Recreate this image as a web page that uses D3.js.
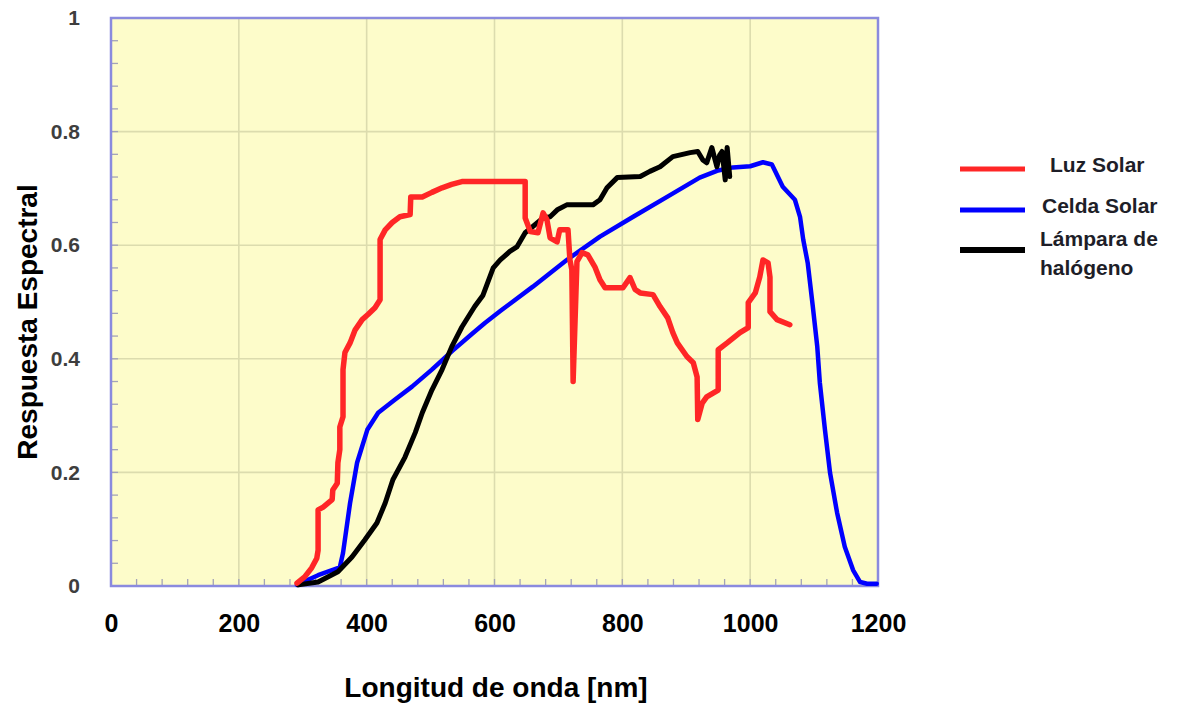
<!DOCTYPE html>
<html>
<head>
<meta charset="utf-8">
<script src="https://cdn.jsdelivr.net/npm/d3@7"></script>
<style>
  html, body { margin: 0; padding: 0; background: #ffffff; }
  svg { display: block; font-family: "Liberation Sans", Arial, Helvetica, sans-serif; }
</style>
</head>
<body>
<svg id="chart" width="1185" height="704"></svg>
<script>
// Spectral response curves: wavelength (nm) and relative response
const luzSolarNm = [291, 303, 314, 322, 324, 324, 332, 346, 347, 354, 355, 358, 358, 363, 363, 366, 374, 382, 393, 402, 413, 421, 421, 429, 440, 452, 468, 469, 487, 502, 518, 533, 549, 648, 648, 656, 668, 676, 682, 687, 698, 702, 715, 718, 721, 723, 729, 737, 746, 757, 765, 773, 801, 812, 820, 828, 848, 859, 871, 879, 886, 901, 911, 917, 918, 925, 932, 950, 950, 964, 984, 997, 997, 1008, 1015, 1020, 1028, 1031, 1031, 1042, 1062];
const luzSolarVal = [0.005, 0.016, 0.032, 0.049, 0.063, 0.134, 0.139, 0.152, 0.169, 0.181, 0.217, 0.240, 0.280, 0.298, 0.381, 0.411, 0.428, 0.451, 0.469, 0.478, 0.490, 0.504, 0.610, 0.627, 0.640, 0.650, 0.654, 0.685, 0.685, 0.693, 0.701, 0.707, 0.712, 0.712, 0.648, 0.624, 0.622, 0.657, 0.645, 0.613, 0.606, 0.627, 0.627, 0.574, 0.557, 0.360, 0.571, 0.587, 0.583, 0.562, 0.539, 0.525, 0.525, 0.543, 0.522, 0.516, 0.513, 0.492, 0.472, 0.446, 0.428, 0.404, 0.393, 0.368, 0.293, 0.322, 0.333, 0.345, 0.416, 0.428, 0.446, 0.455, 0.499, 0.516, 0.544, 0.574, 0.569, 0.544, 0.483, 0.469, 0.460];

const celdaSolarNm = [291, 324, 358, 363, 374, 385, 401, 418, 444, 471, 502, 534, 565, 585, 609, 660, 713, 765, 817, 870, 921, 948, 973, 1000, 1020, 1034, 1051, 1070, 1078, 1083, 1090, 1098, 1105, 1109, 1117, 1125, 1136, 1148, 1161, 1172, 1183, 1198];
const celdaSolarVal = [0.002, 0.019, 0.033, 0.058, 0.146, 0.217, 0.275, 0.305, 0.328, 0.351, 0.381, 0.414, 0.444, 0.463, 0.484, 0.527, 0.574, 0.615, 0.650, 0.685, 0.719, 0.731, 0.737, 0.739, 0.746, 0.742, 0.703, 0.680, 0.650, 0.610, 0.569, 0.492, 0.421, 0.358, 0.275, 0.199, 0.129, 0.069, 0.028, 0.007, 0.004, 0.004];

const halogenoNm = [293, 324, 355, 377, 397, 416, 429, 441, 460, 476, 487, 502, 518, 533, 549, 569, 582, 588, 598, 609, 624, 635, 648, 660, 676, 687, 699, 713, 754, 765, 776, 792, 828, 843, 859, 879, 906, 918, 926, 932, 940, 948, 952, 956, 961, 964, 968];
const halogenoVal = [0.002, 0.007, 0.025, 0.051, 0.081, 0.111, 0.146, 0.187, 0.227, 0.270, 0.305, 0.345, 0.381, 0.421, 0.456, 0.492, 0.512, 0.530, 0.560, 0.574, 0.589, 0.597, 0.622, 0.633, 0.648, 0.650, 0.663, 0.671, 0.671, 0.680, 0.701, 0.719, 0.721, 0.730, 0.738, 0.756, 0.763, 0.765, 0.750, 0.745, 0.772, 0.738, 0.758, 0.765, 0.715, 0.772, 0.721];

const xTickValues = [0, 200, 400, 600, 800, 1000, 1200];
const xTickLabels = ["0", "200", "400", "600", "800", "1000", "1200"];
const yTickValues = [0, 0.2, 0.4, 0.6, 0.8, 1];
const yTickLabels = ["0", "0.2", "0.4", "0.6", "0.8", "1"];

const seriesNames = ["Luz Solar", "Celda Solar", "Lámpara de halógeno"];
const seriesColors = ["#ff2626", "#0000ff", "#000000"];

const svg = d3.select("#chart");
const plot = { left: 111, right: 878, top: 18, bottom: 586 };

const x = d3.scaleLinear().domain([0, 1200]).range([plot.left, plot.right]);
const y = d3.scaleLinear().domain([0, 1]).range([plot.bottom, plot.top]);

// plot background
svg.append("rect")
  .attr("x", plot.left).attr("y", plot.top)
  .attr("width", plot.right - plot.left).attr("height", plot.bottom - plot.top)
  .attr("fill", "#fdfcca");

// grid lines at major ticks
const grid = svg.append("g").attr("stroke", "#dcdcae").attr("stroke-width", 1.6);
grid.selectAll("line.gx").data(xTickValues.slice(1, -1)).join("line")
  .attr("x1", d => x(d)).attr("x2", d => x(d))
  .attr("y1", plot.top).attr("y2", plot.bottom);
grid.selectAll("line.gy").data(yTickValues.slice(1, -1)).join("line")
  .attr("x1", plot.left).attr("x2", plot.right)
  .attr("y1", d => y(d)).attr("y2", d => y(d));

// minor ticks pointing inward from the bottom and left edges
const xMinor = d3.range(40, 1200, 40);
const yMinor = d3.range(0.04, 1, 0.04);
const ticks = svg.append("g").attr("stroke", "#a3a3b8").attr("stroke-width", 1.3);
ticks.selectAll("line.tx").data(xMinor).join("line")
  .attr("x1", d => x(d)).attr("x2", d => x(d))
  .attr("y1", plot.bottom).attr("y2", plot.bottom - 7);
ticks.selectAll("line.ty").data(yMinor).join("line")
  .attr("x1", plot.left).attr("x2", plot.left + 7)
  .attr("y1", d => y(d)).attr("y2", d => y(d));

// frame
svg.append("rect")
  .attr("x", plot.left).attr("y", plot.top)
  .attr("width", plot.right - plot.left).attr("height", plot.bottom - plot.top)
  .attr("fill", "none").attr("stroke", "#8a8ade").attr("stroke-width", 2.5);

// axis tick labels
const xAxis = d3.axisBottom(x).tickValues(xTickValues)
  .tickFormat((d, i) => xTickLabels[i]).tickSize(0).tickPadding(0);
const gx = svg.append("g").attr("transform", `translate(0,${plot.bottom})`).call(xAxis);
gx.select(".domain").remove();
gx.selectAll("text")
  .attr("dy", null).attr("y", 46)
  .attr("font-size", 25).attr("font-weight", "bold").attr("fill", "#000")
  .attr("font-family", "Liberation Sans, Arial, sans-serif");

const yAxis = d3.axisLeft(y).tickValues(yTickValues)
  .tickFormat((d, i) => yTickLabels[i]).tickSize(0).tickPadding(31);
const gy = svg.append("g").attr("transform", `translate(${plot.left},0)`).call(yAxis);
gy.select(".domain").remove();
gy.selectAll("text")
  .attr("font-size", 21).attr("font-weight", "bold").attr("fill", "#3e3e3e")
  .attr("font-family", "Liberation Sans, Arial, sans-serif");

// axis titles
svg.append("text")
  .attr("x", 496).attr("y", 697)
  .attr("text-anchor", "middle")
  .attr("font-size", 28).attr("font-weight", "bold").attr("fill", "#000")
  .text("Longitud de onda [nm]");

svg.append("text")
  .attr("transform", "translate(37,322) rotate(-90)")
  .attr("text-anchor", "middle")
  .attr("font-size", 28).attr("font-weight", "bold").attr("fill", "#000")
  .text("Respuesta Espectral");

// curves
const line = d3.line()
  .x(d => x(d[0])).y(d => y(d[1]))
  .curve(d3.curveLinear);

const curves = [
  { nm: celdaSolarNm, val: celdaSolarVal, color: seriesColors[1], width: 4.5 },
  { nm: halogenoNm, val: halogenoVal, color: seriesColors[2], width: 5 },
  { nm: luzSolarNm, val: luzSolarVal, color: seriesColors[0], width: 5.5 }
];

svg.append("g").selectAll("path").data(curves).join("path")
  .attr("d", c => line(d3.zip(c.nm, c.val)))
  .attr("fill", "none")
  .attr("stroke", c => c.color)
  .attr("stroke-width", c => c.width)
  .attr("stroke-linejoin", "round")
  .attr("stroke-linecap", "round");

// legend
const legend = svg.append("g");
const legendRows = [
  { y: 169, color: seriesColors[0], lines: ["Luz Solar"], tx: 1050, ty: 172, lw: 5 },
  { y: 210, color: seriesColors[1], lines: ["Celda Solar"], tx: 1042, ty: 213, lw: 5 },
  { y: 250, color: seriesColors[2], lines: ["Lámpara de", "halógeno"], tx: 1040, ty: 246, lw: 6 }
];
legendRows.forEach(r => {
  legend.append("line")
    .attr("x1", 960).attr("x2", 1025)
    .attr("y1", r.y).attr("y2", r.y)
    .attr("stroke", r.color).attr("stroke-width", r.lw);
  const t = legend.append("text")
    .attr("x", r.tx).attr("y", r.ty)
    .attr("font-size", 21).attr("font-weight", "bold").attr("fill", "#1e1e28");
  r.lines.forEach((s, i) => {
    t.append("tspan").attr("x", r.tx).attr("dy", i === 0 ? 0 : 29).text(s);
  });
});
</script>
</body>
</html>
